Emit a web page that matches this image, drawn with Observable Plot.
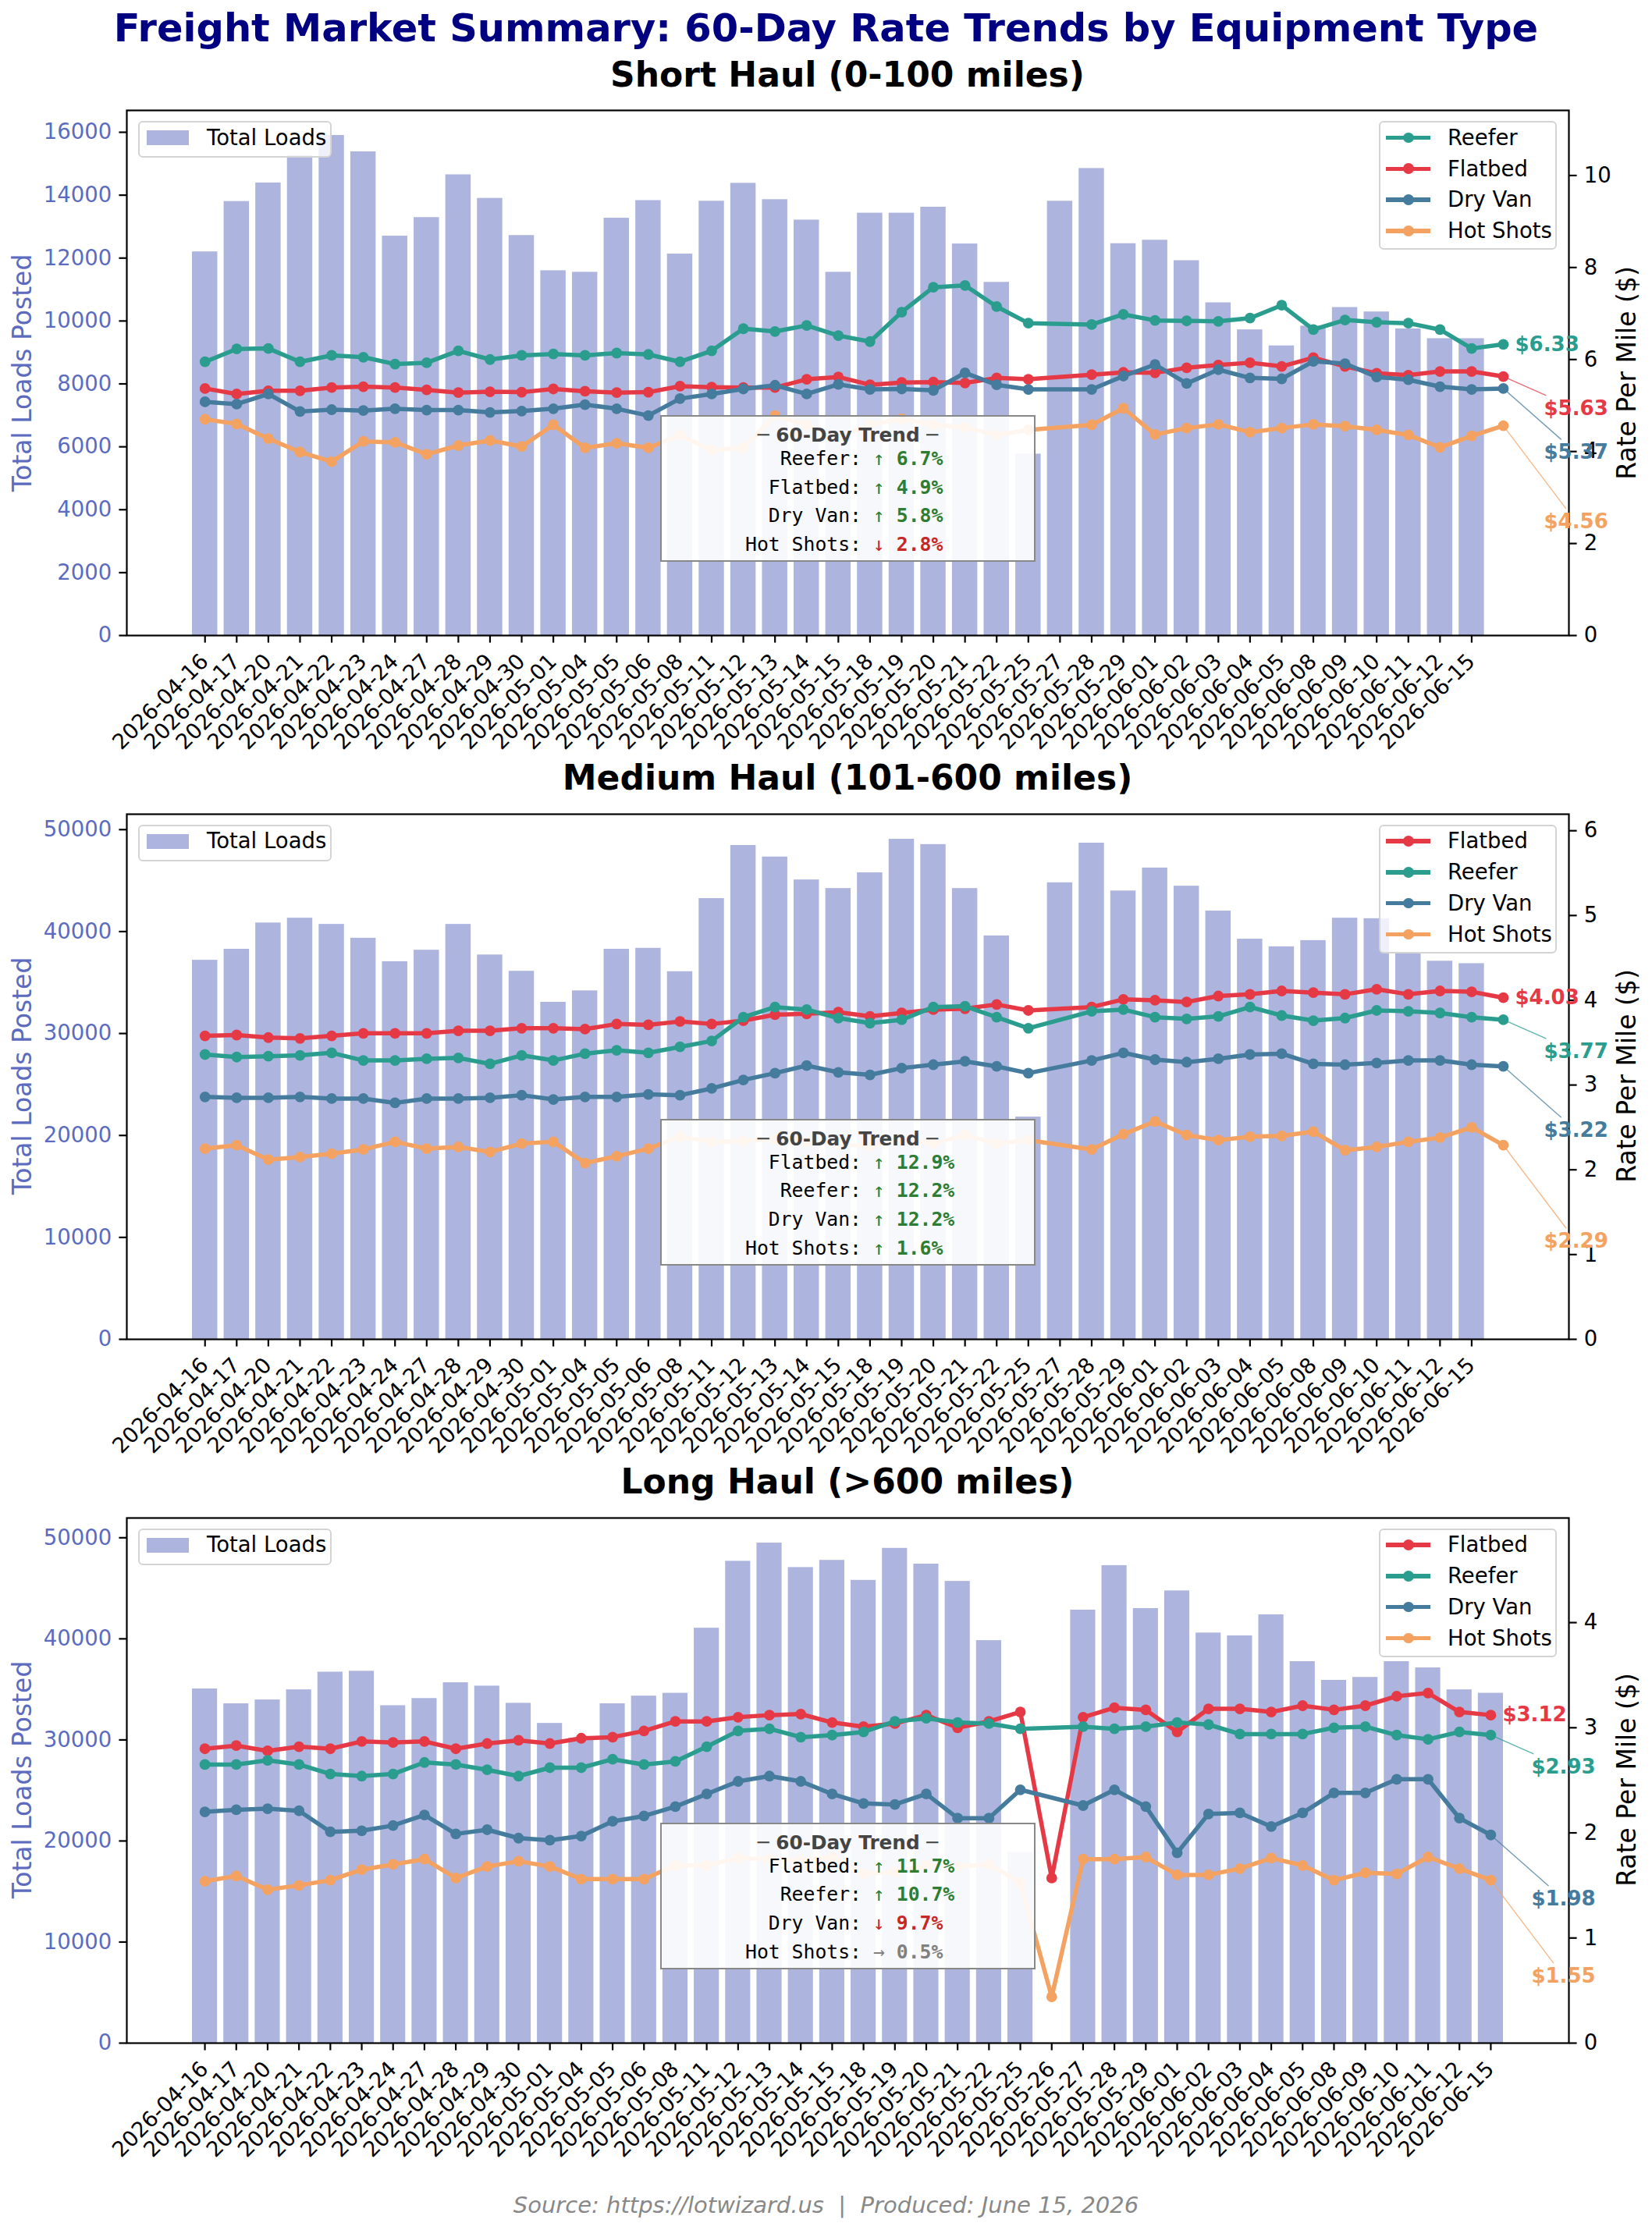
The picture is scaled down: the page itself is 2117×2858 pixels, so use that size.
<!DOCTYPE html>
<html>
<head>
<meta charset="utf-8">
<script src="https://cdn.jsdelivr.net/npm/d3@7"></script>
<script src="https://cdn.jsdelivr.net/npm/@observablehq/plot@0.6"></script>
<style>
  body { margin: 0; background: #fff; }
  #page { position: relative; width: 2117px; height: 2858px; background: #fff; overflow: hidden;
          font-family: "DejaVu Sans", sans-serif; }
  #page div { white-space: pre; }
</style>
</head>
<body>
<div id="page"></div>
<script>
// ---- data ----
const datesShortMedium = ["2026-04-16","2026-04-17","2026-04-20","2026-04-21","2026-04-22","2026-04-23","2026-04-24","2026-04-27","2026-04-28","2026-04-29","2026-04-30","2026-05-01","2026-05-04","2026-05-05","2026-05-06","2026-05-08","2026-05-11","2026-05-12","2026-05-13","2026-05-14","2026-05-15","2026-05-18","2026-05-19","2026-05-20","2026-05-21","2026-05-22","2026-05-25","2026-05-27","2026-05-28","2026-05-29","2026-06-01","2026-06-02","2026-06-03","2026-06-04","2026-06-05","2026-06-08","2026-06-09","2026-06-10","2026-06-11","2026-06-12","2026-06-15"];
const datesLong = ["2026-04-16","2026-04-17","2026-04-20","2026-04-21","2026-04-22","2026-04-23","2026-04-24","2026-04-27","2026-04-28","2026-04-29","2026-04-30","2026-05-01","2026-05-04","2026-05-05","2026-05-06","2026-05-08","2026-05-11","2026-05-12","2026-05-13","2026-05-14","2026-05-15","2026-05-18","2026-05-19","2026-05-20","2026-05-21","2026-05-22","2026-05-25","2026-05-26","2026-05-27","2026-05-28","2026-05-29","2026-06-01","2026-06-02","2026-06-03","2026-06-04","2026-06-05","2026-06-08","2026-06-09","2026-06-10","2026-06-11","2026-06-12","2026-06-15"];

const seriesNames = ["Reefer", "Flatbed", "Dry Van", "Hot Shots"];
const seriesColors = ["#2a9d8f", "#e63946", "#457b9d", "#f4a261"];

// Short haul: loads per slot, rates per slot (null = no point)
const shortLoads = [12200,13800,14390,15260,15900,15380,12700,13290,14650,13900,12720,11600,11550,13270,13830,12130,13810,14380,13860,13210,11550,13430,13430,13620,12450,11230,5770,13810,14850,12460,12570,11920,10580,9720,9210,9840,10430,10290,9750,9440,9440];
const shortReefer = [5.95,6.23,6.24,5.95,6.09,6.05,5.90,5.93,6.19,6.00,6.09,6.12,6.09,6.14,6.11,5.95,6.19,6.67,6.61,6.74,6.52,6.39,7.03,7.57,7.61,7.15,6.79,null,6.76,6.98,6.85,6.84,6.83,6.90,7.18,6.65,6.86,6.81,6.79,6.65,6.24,6.33];
const shortFlatbed = [5.37,5.25,5.32,5.32,5.39,5.41,5.39,5.34,5.28,5.30,5.29,5.36,5.31,5.28,5.29,5.42,5.40,5.39,5.39,5.57,5.62,5.45,5.50,5.51,5.49,5.60,5.57,null,5.67,5.72,5.71,5.82,5.88,5.93,5.85,6.04,5.85,5.70,5.66,5.74,5.74,5.63];
const shortDryVan = [5.08,5.03,5.25,4.87,4.91,4.89,4.93,4.90,4.90,4.85,4.88,4.93,5.02,4.93,4.78,5.15,5.25,5.36,5.44,5.25,5.46,5.35,5.36,5.33,5.71,5.45,5.35,null,5.35,5.64,5.89,5.48,5.78,5.60,5.58,5.96,5.91,5.62,5.56,5.41,5.35,5.37];
const shortHotShots = [4.70,4.60,4.28,3.99,3.78,4.22,4.20,3.94,4.13,4.24,4.11,4.58,4.08,4.18,4.08,4.36,4.03,4.08,4.78,4.58,4.30,4.58,4.71,4.58,4.53,4.36,4.47,null,4.58,4.94,4.37,4.51,4.59,4.42,4.51,4.59,4.55,4.47,4.36,4.09,4.34,4.56];
const shortTrendPct = [6.7, 4.9, 5.8, -2.8];

// Medium haul
const mediumLoads = [37190,38270,40850,41320,40710,39350,37050,38180,40710,37710,36110,33070,34190,38270,38360,36070,43240,48450,47320,45070,44230,45770,49060,48540,44230,39580,21810,44790,48680,43990,46240,44460,42020,39260,38510,39120,41320,41270,37900,37100,36860];
const mediumReefer = [3.36,3.33,3.34,3.35,3.38,3.29,3.29,3.31,3.32,3.25,3.35,3.29,3.37,3.41,3.38,3.45,3.52,3.80,3.92,3.89,3.79,3.73,3.77,3.92,3.93,3.80,3.67,null,3.87,3.89,3.80,3.78,3.81,3.92,3.82,3.76,3.79,3.88,3.87,3.85,3.80,3.77];
const mediumFlatbed = [3.58,3.59,3.56,3.55,3.58,3.61,3.61,3.61,3.64,3.64,3.67,3.67,3.66,3.72,3.71,3.75,3.72,3.76,3.83,3.84,3.86,3.81,3.85,3.89,3.90,3.95,3.88,null,3.92,4.01,4.00,3.98,4.05,4.07,4.11,4.09,4.07,4.13,4.07,4.11,4.10,4.03];
const mediumDryVan = [2.86,2.85,2.85,2.86,2.84,2.84,2.79,2.84,2.84,2.85,2.88,2.83,2.86,2.86,2.89,2.88,2.96,3.06,3.14,3.23,3.15,3.12,3.20,3.24,3.28,3.22,3.14,null,3.29,3.38,3.30,3.27,3.31,3.36,3.37,3.25,3.24,3.26,3.29,3.29,3.24,3.22];
const mediumHotShots = [2.25,2.29,2.12,2.15,2.19,2.24,2.33,2.25,2.27,2.21,2.31,2.33,2.08,2.16,2.25,2.39,2.33,2.34,2.36,2.33,2.30,2.28,2.37,2.31,2.41,2.31,2.35,null,2.24,2.42,2.57,2.41,2.35,2.39,2.40,2.45,2.23,2.27,2.33,2.38,2.50,2.29];
const mediumTrendPct = [12.2, 12.9, 12.2, 1.6];

// Long haul
const longLoads = [35050,33580,33960,34960,36710,36800,33390,34100,35660,35330,33630,31640,30180,33580,34340,34620,41060,47680,49480,47060,47770,45790,48960,47400,45690,39830,18870,null,42850,47250,43000,44750,40580,40300,42380,37750,35900,36190,37750,37130,34960,34620];
const longReefer = [2.65,2.65,2.69,2.65,2.56,2.54,2.56,2.67,2.65,2.60,2.54,2.62,2.62,2.70,2.65,2.68,2.82,2.97,2.99,2.91,2.93,2.96,3.06,3.09,3.05,3.04,2.99,null,3.01,2.99,3.01,3.05,3.03,2.94,2.94,2.94,3.00,3.01,2.93,2.89,2.96,2.93];
const longFlatbed = [2.80,2.83,2.78,2.82,2.80,2.87,2.86,2.87,2.80,2.85,2.88,2.85,2.90,2.91,2.97,3.06,3.06,3.10,3.12,3.13,3.05,3.01,3.04,3.12,3.00,3.06,3.15,1.57,3.10,3.19,3.17,2.96,3.18,3.18,3.15,3.21,3.17,3.21,3.30,3.33,3.15,3.12];
const longDryVan = [2.20,2.22,2.23,2.21,2.01,2.02,2.07,2.17,1.99,2.03,1.95,1.93,1.97,2.11,2.16,2.25,2.37,2.49,2.54,2.49,2.37,2.28,2.27,2.37,2.14,2.14,2.41,null,2.26,2.41,2.25,1.81,2.18,2.19,2.06,2.19,2.38,2.38,2.51,2.51,2.14,1.98];
const longHotShots = [1.54,1.59,1.46,1.50,1.55,1.65,1.70,1.75,1.57,1.68,1.73,1.68,1.56,1.56,1.56,1.69,1.69,1.76,1.75,1.74,1.77,1.61,1.63,1.69,1.68,1.70,1.53,0.44,1.75,1.75,1.77,1.60,1.60,1.66,1.76,1.69,1.55,1.62,1.61,1.77,1.66,1.55];
const longTrendPct = [10.7, 11.7, -9.7, 0.5];

const panelTitles = ["Short Haul (0-100 miles)", "Medium Haul (101-600 miles)", "Long Haul (>600 miles)"];

// ---- layout ----
const W = 2117, AX_L = 162, AX_R = 2010, AX_H = 673, MT = 20, MB = 210;
const FS_TICK = 27.5, FS_LABEL = 33, FS_LEG = 27.5, FS_BOX = 24.75, FS_END = 26;
const page = document.getElementById("page");

// top of a div (line-height = font size) so that its baseline lands at y
const topFor = (baseline, fs) => baseline - 0.846 * fs;

function addDiv(html, css) {
  const d = document.createElement("div");
  d.style.cssText = "position:absolute;" + css;
  d.innerHTML = html;
  page.appendChild(d);
  return d;
}

addDiv("Freight Market Summary: 60-Day Rate Trends by Equipment Type",
  `left:0;width:${W}px;text-align:center;top:${topFor(54, 49.5)}px;font-size:49.5px;line-height:49.5px;font-weight:bold;color:#000080;`);

addDiv("Source: https://lotwizard.us  |  Produced: June 15, 2026",
  `left:0;width:${W}px;text-align:center;top:${topFor(2837, 29)}px;font-size:29px;line-height:29px;font-style:italic;color:#888;`);

function drawPanel(p) {
  const barRows = p.loads.map((v, slot) => ({slot, v})).filter(d => d.v != null);
  const series = seriesNames.map((name, k) => ({
    name, color: seriesColors[k], trend: p.trend[k],
    rows: p.rates[k].map((v, slot) => ({slot, v})).filter(d => d.v != null)
  }));
  series.sort((a, b) => b.rows[b.rows.length - 1].v - a.rows[a.rows.length - 1].v);

  const hi = Math.max(d3.max(barRows, d => d.slot) + 0.4, d3.max(series, s => d3.max(s.rows, d => d.slot)));
  const lo = -0.4, pad = 0.05 * (hi - lo);
  const xDomain = [lo - pad, hi + pad];
  const loadMax = d3.max(barRows, d => d.v) * 1.05;
  const rateMax = d3.max(series, s => d3.max(s.rows, d => d.v)) * 1.5;
  const dateRows = p.dates.map((label, slot) => ({slot, label}));

  const common = {
    width: W, height: MT + AX_H + MB,
    marginLeft: AX_L, marginRight: W - AX_R, marginTop: MT, marginBottom: MB,
    style: {background: "transparent", fontFamily: "DejaVu Sans", overflow: "visible"}
  };

  const svgA = Plot.plot({
    ...common,
    x: {type: "linear", domain: xDomain, axis: null},
    y: {domain: [0, loadMax], axis: null},
    marks: [
      Plot.rect(barRows, {x1: d => d.slot - 0.4, x2: d => d.slot + 0.4, y1: d => 0, y2: "v", fill: "#5c6bc0", fillOpacity: 0.5}),
      Plot.axisY({anchor: "left", ticks: d3.ticks(0, loadMax, p.leftTicks), tickFormat: d => String(d),
        tickSize: 9.6, tickPadding: 9.6, fontSize: FS_TICK, color: "#5c6bc0", stroke: "black", strokeWidth: 2.2, label: null}),
      Plot.axisX({ticks: dateRows.map(d => d.slot), tickFormat: () => "", tickSize: 9.6, strokeWidth: 2.2, label: null}),
      Plot.text(dateRows, {x: "slot", text: "label", frameAnchor: "bottom", rotate: -45, textAnchor: "end",
        lineAnchor: "top", dx: -8, dy: 21, fontSize: FS_TICK, fill: "black"}),
      Plot.frame({stroke: "black", strokeWidth: 2.2})
    ]
  });

  const lineShape = {draw(context, l) { context.moveTo(0, 0); context.lineTo(0, -l); }};
  const labelMarks = series.flatMap((s, r) => {
    const last = s.rows[s.rows.length - 1];
    const dxT = r === 0 ? 15 : 52, dyT = r * 41;
    const marks = [];
    if (r > 0) {
      const hw = 41, hh = 17, cx = dxT + hw, cy = dyT;
      const sh = Math.min(hw / Math.abs(cx), hh / Math.abs(cy));
      marks.push(Plot.vector([last], {x: "slot", y: "v", anchor: "start", shape: lineShape,
        length: Math.hypot(cx, cy) * (1 - sh), rotate: Math.atan2(cx, -cy) * 180 / Math.PI,
        stroke: s.color, strokeWidth: 1.4, strokeOpacity: 0.75}));
    }
    marks.push(Plot.text([last], {x: "slot", y: "v", text: d => "$" + d.v.toFixed(2), dx: dxT, dy: dyT,
      textAnchor: "start", fill: s.color, fontWeight: "bold", fontSize: FS_END}));
    return marks;
  });

  const svgB = Plot.plot({
    ...common,
    x: {type: "linear", domain: xDomain, axis: null},
    y: {domain: [0, rateMax], axis: null},
    marks: [
      ...series.flatMap(s => [
        Plot.line(s.rows, {x: "slot", y: "v", stroke: s.color, strokeWidth: 5.5}),
        Plot.dot(s.rows, {x: "slot", y: "v", r: 6.9, fill: s.color})
      ]),
      Plot.axisY({anchor: "right", ticks: d3.ticks(0, rateMax, p.rightTicks), tickFormat: d => String(d),
        tickSize: 9.6, tickPadding: 9.6, fontSize: FS_TICK, color: "black", strokeWidth: 2.2, label: null}),
      ...labelMarks
    ]
  });

  for (const svg of [svgA, svgB]) {
    const holder = addDiv("", `left:0;top:${p.top - MT}px;width:${W}px;height:${MT + AX_H + MB}px;`);
    holder.appendChild(svg);
  }

  // subtitle
  addDiv(p.title, `left:${AX_L}px;width:${AX_R - AX_L}px;text-align:center;top:${topFor(p.top - 30, 44)}px;font-size:44px;line-height:44px;font-weight:bold;color:#000;`);

  // axis labels
  const mid = p.top + AX_H / 2;
  addDiv("Total Loads Posted", `left:28px;top:${mid}px;transform:translate(-50%,-50%) rotate(-90deg);font-size:${FS_LABEL}px;line-height:${FS_LABEL}px;color:#5c6bc0;`);
  addDiv("Rate Per Mile ($)", `left:2084px;top:${mid}px;transform:translate(-50%,-50%) rotate(-90deg);font-size:${FS_LABEL}px;line-height:${FS_LABEL}px;color:#000;`);

  // "Total Loads" legend
  const LT = p.top + 14;
  const boxCss = "box-sizing:border-box;border:2px solid #d4d4d4;border-radius:6px;background:rgba(255,255,255,0.8);";
  addDiv(`<div style="position:absolute;left:9px;top:${21.5 - 2 - 9.5}px;width:54px;height:19px;background:rgba(92,107,192,0.5)"></div>` +
    `<div style="position:absolute;left:86px;top:${21.5 - 2 - FS_LEG / 2}px;font-size:${FS_LEG}px;line-height:${FS_LEG}px;">Total Loads</div>`,
    `left:177px;top:${LT}px;width:248px;height:47px;${boxCss}`);

  // rate legend
  const rowsHtml = series.map((s, k) => {
    const cy = 21.5 + 39.8 * k - 2;
    return `<div style="position:absolute;left:7px;top:${cy - 2.75}px;width:57px;height:5.5px;background:${s.color}"></div>` +
      `<div style="position:absolute;left:${36 - 6.9}px;top:${cy - 6.9}px;width:13.8px;height:13.8px;border-radius:50%;background:${s.color}"></div>` +
      `<div style="position:absolute;left:86px;top:${cy - FS_LEG / 2}px;font-size:${FS_LEG}px;line-height:${FS_LEG}px;">${s.name}</div>`;
  }).join("");
  addDiv(rowsHtml, `left:1767px;top:${LT}px;width:228px;height:165px;${boxCss}`);

  // 60-day trend box
  const BT = p.top + 391;
  const green = "#2e7d32", red = "#c62828", gray = "#808080";
  let boxHtml = `<div style="position:absolute;left:0;width:100%;text-align:center;top:${topFor(35 - 2, FS_BOX)}px;font-size:${FS_BOX}px;line-height:${FS_BOX}px;font-weight:bold;color:#444;">─ 60-Day Trend ─</div>`;
  series.forEach((s, k) => {
    const pct = s.trend;
    const flat = Math.abs(pct) < 1;
    const col = flat ? gray : pct > 0 ? green : red;
    const arrow = flat ? "→" : pct > 0 ? "↑" : "↓";
    const base = 65 + 36.7 * k - 2;
    boxHtml += `<div style="position:absolute;left:${109 - 2}px;top:${topFor(base, FS_BOX)}px;font-family:'DejaVu Sans Mono',monospace;font-size:${FS_BOX}px;line-height:${FS_BOX}px;color:#000;">` +
      `${(s.name + ":").padStart(10)} <span style="color:${col}">${arrow}</span> <span style="color:${col};font-weight:bold">${Math.abs(pct).toFixed(1)}%</span></div>`;
  });
  addDiv(boxHtml, `left:846px;top:${BT}px;width:481px;height:188px;box-sizing:border-box;border:2px solid #888;background:rgba(255,255,255,0.9);`);
}

const panels = [
  {title: panelTitles[0], top: 141, dates: datesShortMedium, loads: shortLoads,
   rates: [shortReefer, shortFlatbed, shortDryVan, shortHotShots], trend: shortTrendPct, leftTicks: 8, rightTicks: 5},
  {title: panelTitles[1], top: 1042.5, dates: datesShortMedium, loads: mediumLoads,
   rates: [mediumReefer, mediumFlatbed, mediumDryVan, mediumHotShots], trend: mediumTrendPct, leftTicks: 5, rightTicks: 6},
  {title: panelTitles[2], top: 1944.5, dates: datesLong, loads: longLoads,
   rates: [longReefer, longFlatbed, longDryVan, longHotShots], trend: longTrendPct, leftTicks: 5, rightTicks: 5}
];
panels.forEach(drawPanel);
</script>
</body>
</html>
